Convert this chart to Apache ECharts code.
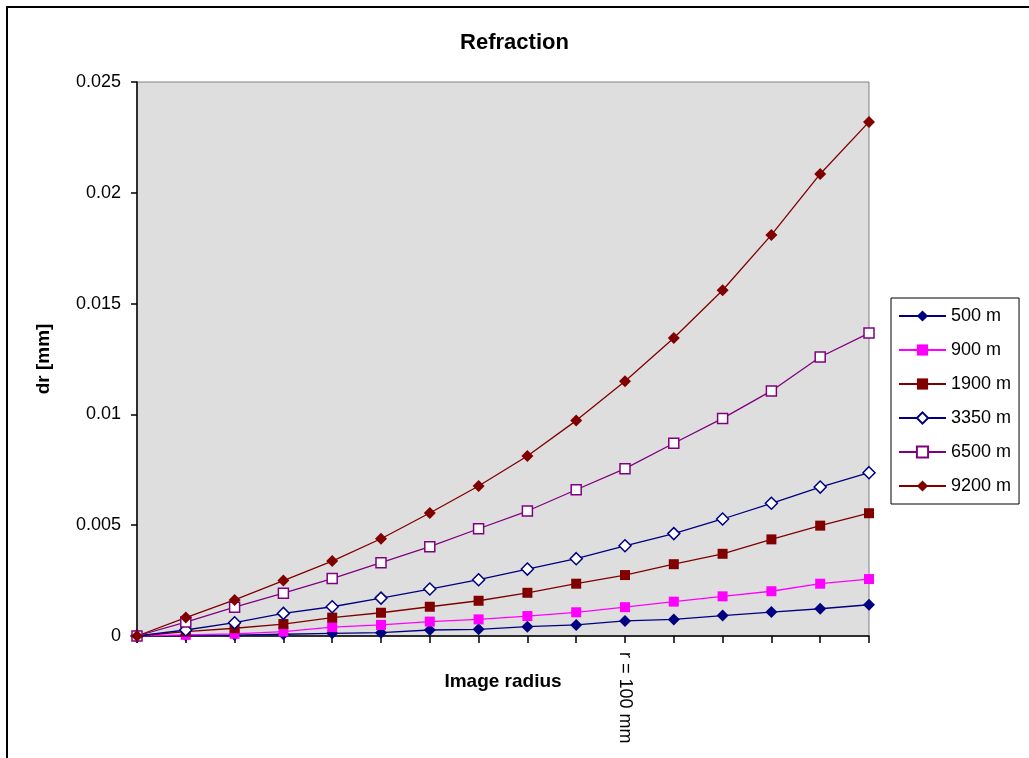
<!DOCTYPE html>
<html>
<head>
<meta charset="utf-8">
<title>Refraction</title>
<script src="https://cdn.jsdelivr.net/npm/echarts@6/dist/echarts.min.js"></script>
<style>
    html, body { margin: 0; padding: 0; background: #fff; }
    #chart { width: 1029px; height: 758px; }
</style>
</head>
<body>
<div id="chart"></div>
<script>
// image radius [mm] at each point
var radius = [0, 10, 20, 30, 40, 50, 60, 70, 80, 90, 100, 110, 120, 130, 140, 150];
// only one tick on the x axis carries a label
var xTickLabels = ['', '', '', '', '', '', '', '', '', '', 'r = 100 mm', '', '', '', '', ''];
var yTickLabels = ['0', '0.005', '0.01', '0.015', '0.02', '0.025'];

// dr [mm] per flying height
var h500  = [0, 0.00002, 0.00004, 0.00008, 0.00012, 0.00015, 0.00027, 0.0003, 0.00042, 0.0005, 0.00068, 0.00075, 0.00092, 0.00108, 0.00123, 0.00141];
var h900  = [0, 0.00005, 0.0001, 0.0002, 0.0004, 0.0005, 0.00065, 0.00075, 0.0009, 0.00107, 0.0013, 0.00155, 0.00179, 0.00202, 0.00236, 0.00257];
var h1900 = [0, 0.0002, 0.00035, 0.00054, 0.00083, 0.00105, 0.00132, 0.00159, 0.00195, 0.00236, 0.00275, 0.00324, 0.00371, 0.00436, 0.00498, 0.00554];
var h3350 = [0, 0.00027, 0.0006, 0.00102, 0.00132, 0.00171, 0.00212, 0.00254, 0.00302, 0.00349, 0.00407, 0.00462, 0.00528, 0.00599, 0.00672, 0.00737];
var h6500 = [0, 0.00063, 0.0013, 0.00193, 0.00259, 0.00331, 0.00403, 0.00484, 0.00564, 0.0066, 0.00755, 0.0087, 0.00982, 0.01106, 0.01259, 0.01367];
var h9200 = [0, 0.00083, 0.00163, 0.0025, 0.00338, 0.00439, 0.00555, 0.00677, 0.00812, 0.00972, 0.0115, 0.01345, 0.0156, 0.0181, 0.02085, 0.0232];

var FONT = "'Liberation Sans', Arial, sans-serif";

// 画一条折线
function makeLine(name, data, color, symbol, size, hollow) {
    return {
        name: name,
        type: 'line',
        data: data,
        symbol: symbol,
        symbolSize: size,
        showAllSymbol: true,
        lineStyle: { color: color, width: 1.3 },
        itemStyle: hollow
            ? { color: '#fff', borderColor: color, borderWidth: 1.5 }
            : { color: color, borderColor: color, borderWidth: 0 },
        emphasis: { disabled: true },
        animation: false
    };
}

var myChart = echarts.init(document.getElementById('chart'));

var option = {
    backgroundColor: '#fff',
    title: {
        text: 'Refraction',
        left: 'center',
        top: 32,
        padding: 0,
        textStyle: { fontFamily: FONT, fontSize: 22, fontWeight: 'bold', color: '#000' }
    },
    legend: {
        orient: 'vertical',
        left: 891,
        top: 298,
        padding: [9, 8, 9, 7],
        backgroundColor: '#fff',
        borderColor: '#000',
        borderWidth: 1,
        borderRadius: 0,
        itemWidth: 47,
        itemHeight: 14,
        itemGap: 16,
        textStyle: { fontFamily: FONT, fontSize: 18, color: '#000', lineHeight: 18 },
        data: ['500 m', '900 m', '1900 m', '3350 m', '6500 m', '9200 m']
    },
    grid: {
        left: 137,
        right: 160,
        top: 82,
        bottom: 122,
        show: true,
        backgroundColor: '#dedede',
        borderColor: '#808080',
        borderWidth: 1
    },
    graphic: [{
        // chart area frame, partly cut off by the screenshot
        type: 'rect',
        shape: { x: 7, y: 7, width: 1200, height: 1000 },
        style: { fill: 'none', stroke: '#000', lineWidth: 2 },
        silent: true
    }],
    xAxis: {
        type: 'category',
        data: radius,
        boundaryGap: false,
        name: 'Image radius',
        nameLocation: 'middle',
        nameGap: 36,
        nameMoveOverlap: false,
        nameTextStyle: { fontFamily: FONT, fontSize: 19, fontWeight: 'bold', color: '#000' },
        axisLine: { lineStyle: { color: '#000', width: 1.5 } },
        axisTick: { show: true, interval: 0, length: 7, lineStyle: { color: '#000', width: 1.5 } },
        axisLabel: {
            interval: 0,
            rotate: -90,
            margin: 16,
            fontFamily: FONT,
            fontSize: 18,
            color: '#000',
            formatter: function (value, index) { return xTickLabels[index]; }
        },
        splitLine: { show: false }
    },
    yAxis: {
        type: 'value',
        min: 0,
        max: 0.025,
        interval: 0.005,
        name: 'dr [mm]',
        nameLocation: 'middle',
        nameGap: 84,
        nameMoveOverlap: false,
        nameTextStyle: { fontFamily: FONT, fontSize: 19, fontWeight: 'bold', color: '#000' },
        axisLine: { show: true, lineStyle: { color: '#000', width: 1.5 } },
        axisTick: { show: true, length: 6, lineStyle: { color: '#000', width: 1.5 } },
        axisLabel: {
            margin: 16,
            fontFamily: FONT,
            fontSize: 18,
            color: '#000',
            formatter: function (value) { return yTickLabels[Math.round(value / 0.005)]; }
        },
        splitLine: { show: false }
    },
    series: [
        makeLine('500 m', h500, '#000080', 'diamond', 12, false),
        makeLine('900 m', h900, '#ff00ff', 'rect', 10, false),
        makeLine('1900 m', h1900, '#800000', 'rect', 10, false),
        makeLine('3350 m', h3350, '#000080', 'diamond', 12, true),
        makeLine('6500 m', h6500, '#800080', 'rect', 10, true),
        makeLine('9200 m', h9200, '#800000', 'diamond', 12, false)
    ]
};

myChart.setOption(option);
</script>
</body>
</html>
